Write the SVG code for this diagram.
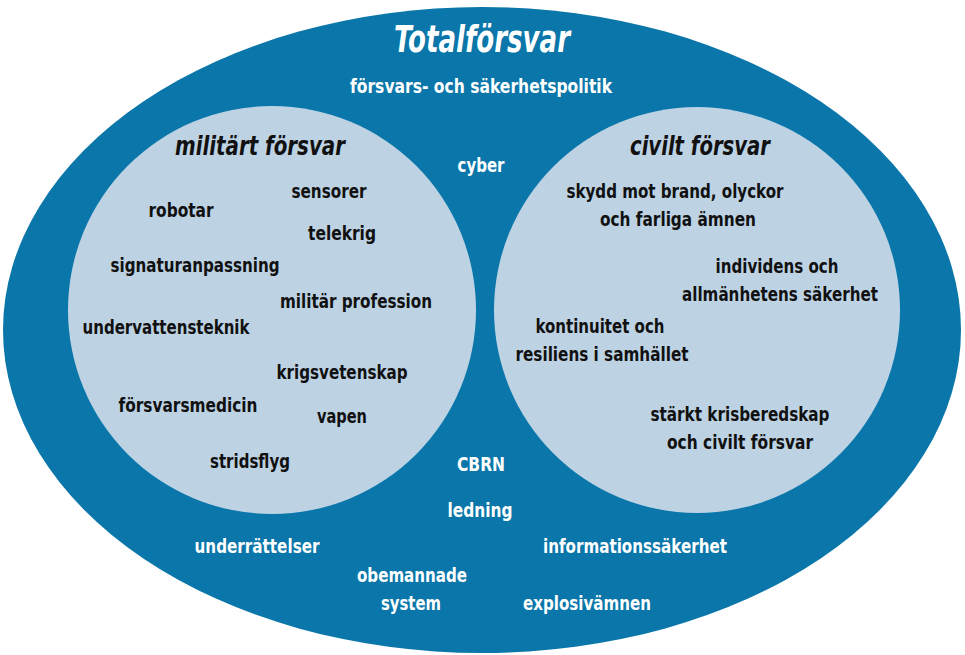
<svg xmlns="http://www.w3.org/2000/svg" width="965" height="655" viewBox="0 0 965 655">
<style>
.w{fill:#ffffff;font-family:"DejaVu Sans Condensed","DejaVu Sans",sans-serif;font-weight:bold;font-size:20px;text-anchor:middle}
.b{fill:#111111;font-family:"DejaVu Sans Condensed","DejaVu Sans",sans-serif;font-weight:bold;font-size:20px;text-anchor:middle}
.ti{font-style:italic;font-size:27px}
.circle{fill:#bdd3e4}
</style>
<rect width="965" height="655" fill="#ffffff"/>
<g id="totalforsvar">
<ellipse cx="482" cy="330" rx="479" ry="323" fill="#0a76a9"/>
<text class="w" x="482" y="52" style="font-style:italic;font-size:38px" textLength="176" lengthAdjust="spacingAndGlyphs">Totalförsvar</text>
<text class="w" x="481" y="93" textLength="262" lengthAdjust="spacingAndGlyphs">försvars- och säkerhetspolitik</text>
</g>
<g id="militart">
<circle class="circle" cx="272" cy="310" r="204"/>
<text class="b ti" x="260" y="155" textLength="170" lengthAdjust="spacingAndGlyphs">militärt försvar</text>
<text class="b" x="329" y="198" textLength="75" lengthAdjust="spacingAndGlyphs">sensorer</text>
<text class="b" x="181" y="217" textLength="65" lengthAdjust="spacingAndGlyphs">robotar</text>
<text class="b" x="342" y="240" textLength="68" lengthAdjust="spacingAndGlyphs">telekrig</text>
<text class="b" x="195" y="272" textLength="169" lengthAdjust="spacingAndGlyphs">signaturanpassning</text>
<text class="b" x="356" y="308" textLength="152" lengthAdjust="spacingAndGlyphs">militär profession</text>
<text class="b" x="166" y="334" textLength="167" lengthAdjust="spacingAndGlyphs">undervattensteknik</text>
<text class="b" x="342" y="379" textLength="131" lengthAdjust="spacingAndGlyphs">krigsvetenskap</text>
<text class="b" x="188" y="412" textLength="139" lengthAdjust="spacingAndGlyphs">försvarsmedicin</text>
<text class="b" x="342" y="423" textLength="50" lengthAdjust="spacingAndGlyphs">vapen</text>
<text class="b" x="250" y="468" textLength="80" lengthAdjust="spacingAndGlyphs">stridsflyg</text>
</g>
<g id="civilt">
<circle class="circle" cx="697" cy="310" r="203"/>
<text class="b ti" x="700" y="155" textLength="140" lengthAdjust="spacingAndGlyphs">civilt försvar</text>
<text class="b" x="675" y="198" textLength="217" lengthAdjust="spacingAndGlyphs">skydd mot brand, olyckor</text>
<text class="b" x="678" y="226" textLength="156" lengthAdjust="spacingAndGlyphs">och farliga ämnen</text>
<text class="b" x="777" y="273" textLength="123" lengthAdjust="spacingAndGlyphs">individens och</text>
<text class="b" x="780" y="301" textLength="196" lengthAdjust="spacingAndGlyphs">allmänhetens säkerhet</text>
<text class="b" x="600" y="333" textLength="129" lengthAdjust="spacingAndGlyphs">kontinuitet och</text>
<text class="b" x="602" y="361" textLength="173" lengthAdjust="spacingAndGlyphs">resiliens i samhället</text>
<text class="b" x="740" y="421" textLength="179" lengthAdjust="spacingAndGlyphs">stärkt krisberedskap</text>
<text class="b" x="740" y="449" textLength="146" lengthAdjust="spacingAndGlyphs">och civilt försvar</text>
</g>
<g id="shared">
<text class="w" x="481" y="172" textLength="47" lengthAdjust="spacingAndGlyphs">cyber</text>
<text class="w" x="481" y="471" textLength="48" lengthAdjust="spacingAndGlyphs">CBRN</text>
<text class="w" x="480" y="517" textLength="65" lengthAdjust="spacingAndGlyphs">ledning</text>
<text class="w" x="257" y="553" textLength="125" lengthAdjust="spacingAndGlyphs">underrättelser</text>
<text class="w" x="635" y="553" textLength="184" lengthAdjust="spacingAndGlyphs">informationssäkerhet</text>
<text class="w" x="412" y="582" textLength="110" lengthAdjust="spacingAndGlyphs">obemannade</text>
<text class="w" x="411" y="610" textLength="60" lengthAdjust="spacingAndGlyphs">system</text>
<text class="w" x="587" y="610" textLength="128" lengthAdjust="spacingAndGlyphs">explosivämnen</text>
</g>
</svg>
